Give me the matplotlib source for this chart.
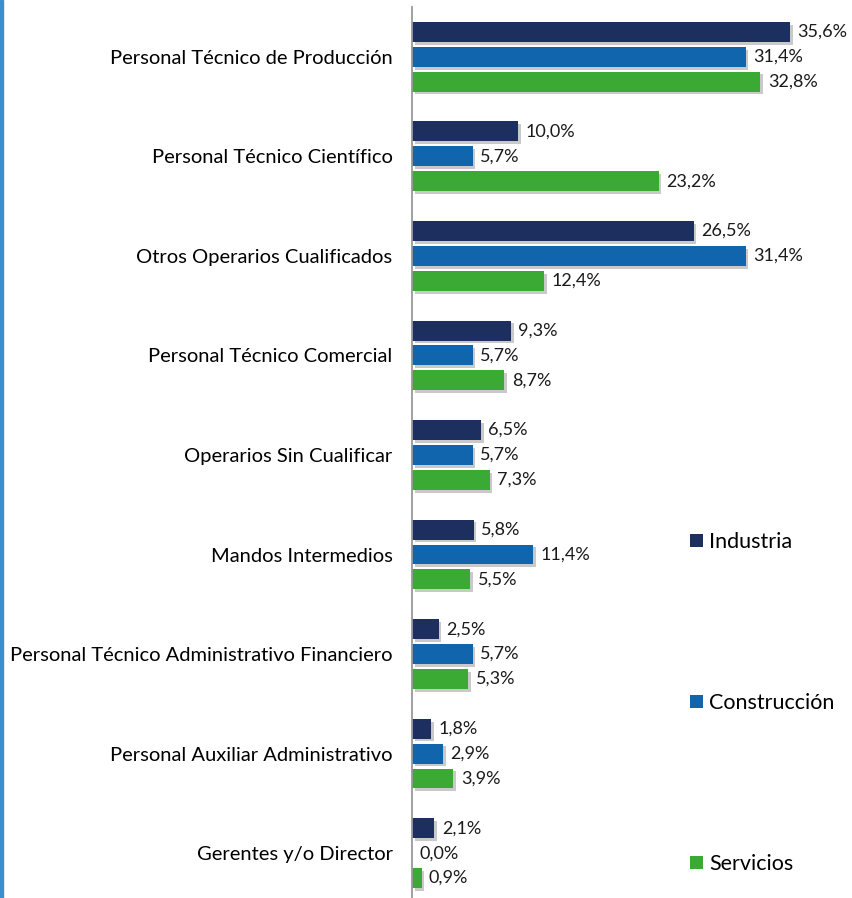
"""Distribución por categoría profesional y sector."""
import numpy as np
from matplotlib import pyplot as plt
from matplotlib import patheffects as pe
from matplotlib.patches import Patch, Rectangle

categories = [
    'Personal Técnico de Producción',
    'Personal Técnico Científico',
    'Otros Operarios Cualificados',
    'Personal Técnico Comercial',
    'Operarios Sin Cualificar',
    'Mandos Intermedios',
    'Personal Técnico Administrativo Financiero',
    'Personal Auxiliar Administrativo',
    'Gerentes y/o Director',
]
industria = [35.6, 10.0, 26.5, 9.3, 6.5, 5.8, 2.5, 1.8, 2.1]
construccion = [31.4, 5.7, 31.4, 5.7, 5.7, 11.4, 5.7, 2.9, 0.0]
servicios = [32.8, 23.2, 12.4, 8.7, 7.3, 5.5, 5.3, 3.9, 0.9]

series = [
    ('Industria', industria, '#1c2f5e'),
    ('Construcción', construccion, '#1165ad'),
    ('Servicios', servicios, '#3aaa35'),
]

plt.rcParams['font.family'] = ['Lato', 'DejaVu Sans']

fig = plt.figure(figsize=(8.53, 8.98), dpi=100)
ax = fig.add_axes([412 / 853, 0.0, 425 / 853, 1 - 7 / 898])

y = np.arange(len(categories))
shadow = [pe.SimplePatchShadow(offset=(2, -2), shadow_rgbFace='#888888', alpha=0.45),
          pe.Normal()]

handles = []
for i, (name, values, color) in enumerate(series):
    pos = y + (i - 1) * 0.25
    bars = ax.barh(pos, values, height=0.2, color=color, path_effects=shadow)
    for b, v in zip(bars, values):
        ax.text(v + 0.7, b.get_y() + b.get_height() / 2, f'{v:.1f}%'.replace('.', ','),
                va='center', ha='left', fontsize=13, color='#1a1a1a')
    handles.append(Patch(facecolor=color, label=name))

ax.set_yticks(y)
ax.set_yticklabels(categories, fontsize=14.5)
ax.tick_params(axis='y', length=0, pad=14)
ax.set_xticks([])
ax.set_xlim(0, 40)
ax.set_ylim(8.45, -0.5)
for s in ['top', 'right', 'bottom']:
    ax.spines[s].set_visible(False)
ax.spines['left'].set_color('#999999')
ax.spines['left'].set_linewidth(1.3)

fig.legend(handles=handles, loc='upper left', bbox_to_anchor=(690 / 853, 1 - 532 / 898),
           frameon=False, fontsize=15.5, handlelength=0.6, handleheight=0.6,
           handletextpad=0.3, labelspacing=6.55, borderaxespad=0, borderpad=0)

fig.patches.append(Rectangle((0, 0), 3 / 853, 1, transform=fig.transFigure,
                             color='#3a8fd0', zorder=5))

fig.savefig('out.png', dpi=100)
